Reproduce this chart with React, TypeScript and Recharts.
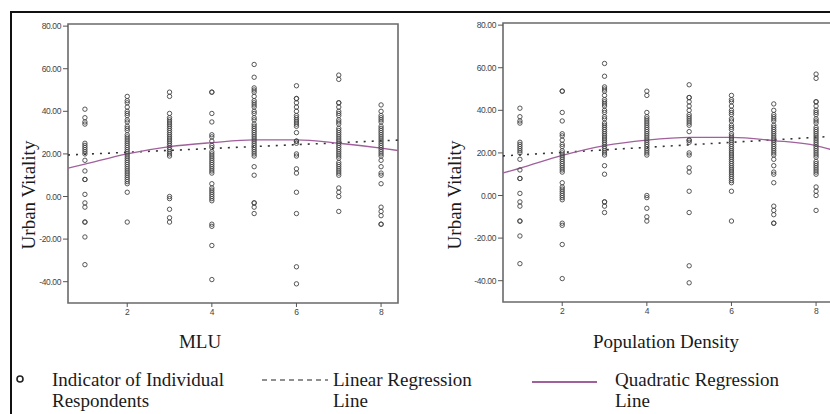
import React from 'react';
import { ComposedChart, Scatter, Line, XAxis, YAxis, ReferenceArea } from 'recharts';

// respondent values per category (the two panels reuse the same groups in a different order)
const groupA = [41, 37, 35, 34, 25, 24, 23, 22, 21, 20, 17, 12, 8, 8, 1, -3, -5, -12, -12, -19, -32];
const groupB = [47, 45, 44, 42, 40, 39, 38, 36, 35, 33, 32, 31, 29, 28, 27, 26, 25, 24, 23, 22, 21, 20, 19, 18, 17, 16, 15, 14, 13, 12, 11, 10, 9, 8, 7, 6, 2, -12];
const groupC = [49, 47, 39, 37, 36, 35, 34, 33, 32, 31, 30, 29, 28, 27, 26, 25, 24, 23, 22, 21, 20, 19, 0, -1, -6, -10, -12];
const groupD = [49, 49, 39, 35, 29, 28, 26, 24, 23, 21, 20, 19, 18, 17, 16, 15, 14, 13, 12, 11, 6, 4, 3, 2, 1, 0, -1, -2, -13, -14, -23, -39];
const groupE = [62, 56, 51, 50, 49, 47, 45, 44, 43, 42, 40, 39, 37, 36, 34, 33, 32, 31, 30, 29, 28, 27, 26, 25, 24, 23, 22, 21, 20, 19, 14, 10, -3, -3, -5, -8];
const groupF = [52, 46, 46, 44, 42, 40, 38, 37, 36, 35, 34, 33, 30, 26, 26, 25, 20, 19, 13, 11, 2, -8, -33, -41];
const groupG = [57, 55, 44, 44, 42, 40, 39, 38, 36, 35, 34, 32, 31, 30, 29, 28, 27, 26, 25, 24, 23, 22, 21, 20, 19, 18, 16, 15, 14, 13, 12, 11, 10, 4, 2, 0, -7];
const groupH = [43, 40, 38, 37, 36, 35, 33, 32, 31, 30, 29, 28, 27, 26, 25, 24, 23, 22, 21, 20, 19, 17, 14, 11, 10, 6, -5, -7, -9, -13, -13];

const mluColumns = [groupA, groupB, groupC, groupD, groupE, groupF, groupG, groupH];
const densityColumns = [groupA, groupD, groupE, groupC, groupF, groupB, groupH, groupG];

const xTicks = [2, 4, 6, 8];
const yTicks = [-40, -20, 0, 20, 40, 60, 80];

const lineX = [0.6, 8.4];
const mluLinearY = [19.5, 26.5];
const densityLinearY = [18.6, 27.8];

const quadX = [0.6, 1, 2, 3, 4, 5, 6, 7, 8, 8.4];
const mluQuadY = [13.3, 15.2, 20, 23.4, 25.3, 26.6, 26.6, 25, 22.7, 21.6];
const densityQuadY = [10.6, 12.8, 18.8, 23.4, 26, 27.3, 27.3, 25.8, 23.4, 21.3];

const PURPLE = '#a0609c';
const serif = '"Liberation Serif", "Times New Roman", serif';

const Ring = (p: any) => (
  <circle cx={p.cx} cy={p.cy} r={2.2} fill="none" stroke="#444" strokeWidth={0.9} />
);

function Panel({ columns, linearY, quadY, yAxisWidth, margin }: any) {
  const points = columns.flatMap((vals: number[], i: number) => vals.map((y) => ({ x: i + 1, y })));
  const linear = lineX.map((x, i) => ({ x, y: linearY[i] }));
  const quad = quadX.map((x, i) => ({ x, y: quadY[i] }));
  const tick = { fontSize: 8.5, fill: '#444', letterSpacing: -0.4, fontFamily: '"Liberation Sans", Arial, sans-serif' };
  return (
    <ComposedChart width={420} height={330} margin={margin}>
      <XAxis
        type="number"
        dataKey="x"
        domain={[0.6, 8.4]}
        ticks={xTicks}
        height={20}
        axisLine={false}
        tickSize={4}
        tickLine={{ stroke: '#555' }}
        tick={tick}
        allowDataOverflow
      />
      <YAxis
        type="number"
        dataKey="y"
        domain={[-50, 81]}
        ticks={yTicks}
        width={yAxisWidth}
        axisLine={false}
        tickSize={5}
        tickLine={{ stroke: '#555' }}
        tick={tick}
        tickFormatter={(v: number) => v.toFixed(2)}
        allowDataOverflow
      />
      <ReferenceArea x1={0.6} x2={8.4} y1={-50} y2={81} fill="none" stroke="#6a6a6a" strokeWidth={1.6} ifOverflow="visible" />
      <Scatter data={points} shape={Ring} isAnimationActive={false} />
      <Line data={linear} dataKey="y" type="linear" stroke="#333" strokeWidth={1.6} strokeDasharray="2 6" dot={false} isAnimationActive={false} />
      <Line data={quad} dataKey="y" type="monotone" stroke={PURPLE} strokeWidth={1.3} dot={false} isAnimationActive={false} />
    </ComposedChart>
  );
}

const abs = (left: number, top: number): React.CSSProperties => ({ position: 'absolute', left, top });

const centered = (left: number, top: number, rotate = false): React.CSSProperties => ({
  position: 'absolute',
  left,
  top,
  transform: `translate(-50%, -50%)${rotate ? ' rotate(-90deg)' : ''}`,
  whiteSpace: 'nowrap',
  fontFamily: serif,
  fontSize: 19,
  lineHeight: 1,
  color: '#1a1a1a',
});

const legendText = (left: number): React.CSSProperties => ({
  position: 'absolute',
  left,
  top: 368.5,
  fontFamily: serif,
  fontSize: 19,
  lineHeight: '21px',
  color: '#1a1a1a',
  whiteSpace: 'nowrap',
});

export default function App() {
  return (
    <div style={{ position: 'fixed', left: 0, top: 0, width: 830, height: 414, overflow: 'hidden', background: '#fff' }}>
      <div style={{ position: 'absolute', left: 10, top: 11, width: 840, height: 420, borderTop: '2px solid #111', borderLeft: '2px solid #111' }} />
      <div style={abs(0, 0)}>
        <Panel columns={mluColumns} linearY={mluLinearY} quadY={mluQuadY} yAxisWidth={68} margin={{ top: 24, right: 22, bottom: 7, left: 0 }} />
      </div>
      <div style={abs(420, 0)}>
        <Panel columns={densityColumns} linearY={densityLinearY} quadY={densityQuadY} yAxisWidth={83} margin={{ top: 23, right: 7, bottom: 8, left: 0 }} />
      </div>
      <div style={centered(28, 195, true)}>Urban Vitality</div>
      <div style={centered(454, 195, true)}>Urban Vitality</div>
      <div style={centered(200, 340.5)}>MLU</div>
      <div style={centered(666, 340.5)}>Population Density</div>

      <svg style={abs(0, 360)} width={830} height={54}>
        <circle cx={20} cy={19} r={3} fill="none" stroke="#222" strokeWidth={1.6} />
        <line x1={262} x2={328} y1={20} y2={20} stroke="#222" strokeWidth={1.2} strokeDasharray="5 4" />
        <line x1={532} x2={597} y1={22} y2={22} stroke={PURPLE} strokeWidth={2} />
      </svg>
      <div style={legendText(52)}>Indicator of Individual<br />Respondents</div>
      <div style={legendText(333)}>Linear Regression<br />Line</div>
      <div style={legendText(615)}>Quadratic Regression<br />Line</div>
    </div>
  );
}
